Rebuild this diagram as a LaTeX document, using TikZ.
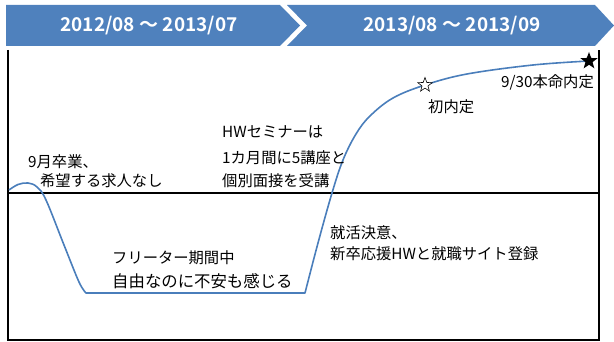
\documentclass[tikz,border=0pt]{standalone}
\usepackage{fontspec}
\newfontfamily\jp{Noto Sans CJK JP}
\newfontfamily\jpb{Noto Sans CJK JP Bold}
\usetikzlibrary{shapes.geometric}
\definecolor{bannerblue}{HTML}{4F81BD}
\definecolor{curveblue}{HTML}{4A7EBB}
\tikzset{
  lbl/.style={font=\jp\fontsize{15.3}{17}\selectfont, inner sep=0pt, anchor=west},
  widelbl/.style={lbl, font=\jp\fontsize{16.4}{18}\selectfont},
  hdr/.style={font=\jpb\fontsize{19}{21}\selectfont, text=white, inner sep=0pt},
  frame/.style={line width=1.8pt, black},
  midline/.style={line width=1.1pt, black},
  curve/.style={line width=1.6pt, curveblue},
  chev/.style={fill=bannerblue, draw=none},
  starmark/.style={star, star points=5, star point ratio=2.4, inner sep=0pt}
}
\begin{document}
\begin{tikzpicture}[x=1pt,y=-1pt]
\useasboundingbox (0,0) rectangle (614,342);
% banner
\fill[chev] (6,5) -- (280,5) -- (300,25.5) -- (280,46) -- (6,46) -- cycle;
\fill[chev] (287,5) -- (595,5) -- (614,25.5) -- (595,46) -- (287,46) -- (307,25.5) -- cycle;
\node[hdr] (h1) at (149,25.5) {2012/08 ～ 2013/07};
\node[hdr] (h2) at (452,25.5) {2013/08 ～ 2013/09};
% frame
\coordinate (tl) at (8,50);
\coordinate (bl) at (8,340);
\coordinate (br) at (599,340);
\coordinate (tr) at (599,50);
\draw[frame] (tl) -- (bl) -- (br) -- (tr);
\coordinate (ml) at (8,193);
\coordinate (mr) at (599,193);
\draw[midline] (ml) -- (mr);
% curve
\draw[curve, line join=round] plot[smooth, tension=0.6] coordinates {(9,190) (18,184.5) (28,183) (37,187) (46,200) (64,245) (79,282) (86,293)}
  -- (305,293)
  -- plot[smooth, tension=0.6] coordinates {(305,293) (318,243) (332,193) (343,160) (356,134) (370,116) (393,98) (425,85) (467,74) (533,65) (589,61)};
% stars
\node[starmark, draw=black, fill=white, line width=0.6pt, minimum size=15pt] (s1) at (425,85) {};
\node[starmark, fill=black, minimum size=18pt] (s2) at (589,61) {};
% labels
\node[lbl] (t1) at (28,162) {9月卒業、};
\node[lbl] (t2) at (40,181) {希望する求人なし};
\node[lbl] (t3) at (222,132) {HWセミナーは};
\node[lbl] (t4) at (222,158) {1カ月間に5講座と};
\node[lbl] (t5) at (222,181) {個別面接を受講};
\node[lbl] (t6) at (112,258) {フリーター期間中};
\node[widelbl] (t7) at (112,281) {自由なのに不安も感じる};
\node[lbl] (t8) at (330,233) {就活決意、};
\node[lbl] (t9) at (330,254) {新卒応援HWと就職サイト登録};
\node[lbl] (t10) at (428,107) {初内定};
\node[lbl, anchor=east] (t11) at (594,82) {9/30本命内定};
\end{tikzpicture}
\end{document}
